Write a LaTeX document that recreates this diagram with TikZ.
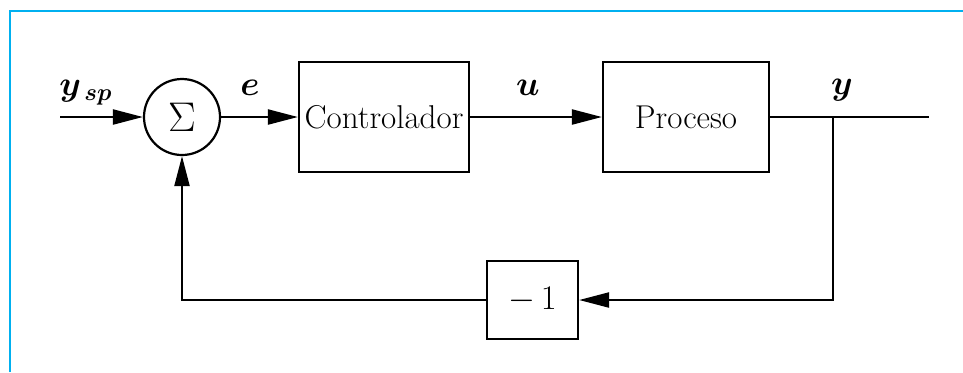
\documentclass[tikz,border=0pt]{standalone}
\usepackage{amsmath}
\usetikzlibrary{arrows.meta}
\usetikzlibrary{positioning}
\definecolor{framecyan}{RGB}{0,176,240}
\tikzset{%
  sigedge/.style={-{Triangle[length=15pt,width=7.5pt]}, line width=1.1pt},
  sigline/.style={line width=1.1pt},
  blocknode/.style={rectangle, draw=black, line width=1.1pt, inner sep=0pt, font=\fontsize{16.5}{20}\selectfont},
  sumnode/.style={circle, draw=black, line width=1.1pt, minimum size=38pt, inner sep=0pt, font=\fontsize{20}{24}\selectfont},
  lblnode/.style={font=\fontsize{16.5}{20}\selectfont\boldmath}
}

\begin{document}
\begin{tikzpicture}[x=0.5pt, y=-0.5pt]
  \useasboundingbox (0,0) rectangle (963,372);
  % frame
  \draw[framecyan, line width=1pt] (10,372) -- (10,11) -- (963,11);
  % blocks
  \node[sumnode] (sum) at (182,117) {$\Sigma$};
  \node[blocknode, minimum width=85pt, minimum height=55pt] (ctrl) at (384,117) {Controlador};
  \node[blocknode, minimum width=83pt, minimum height=55pt] (proc) at (686,117) {Proceso};
  \node[blocknode, minimum width=45.5pt, minimum height=39pt] (neg) at (532.5,300) {$-\,1$};
  \coordinate (in) at (60,117);
  \coordinate (out) at (929,117);
  \coordinate (br) at (833,117);
  \coordinate (brd) at (833,300);
  \coordinate (fb) at (182,300);
  % signals
  \draw [sigedge] (in) -- (sum);
  \draw [sigedge] (sum) -- (ctrl);
  \draw [sigedge] (ctrl) -- (proc);
  \draw [sigline] (proc) -- (out);
  \draw [sigedge] (br) -- (brd) -- (neg);
  \draw [sigedge] (neg) -- (fb) -- (sum);
  % labels
  \node[lblnode] (ysp) at (86,93) {$y_{\,sp}$};
  \node[lblnode] (elbl) at (250,88) {$e$};
  \node[lblnode] (ulbl) at (528,88) {$u$};
  \node[lblnode] (ylbl) at (842,90) {$y$};
\end{tikzpicture}
\end{document}
